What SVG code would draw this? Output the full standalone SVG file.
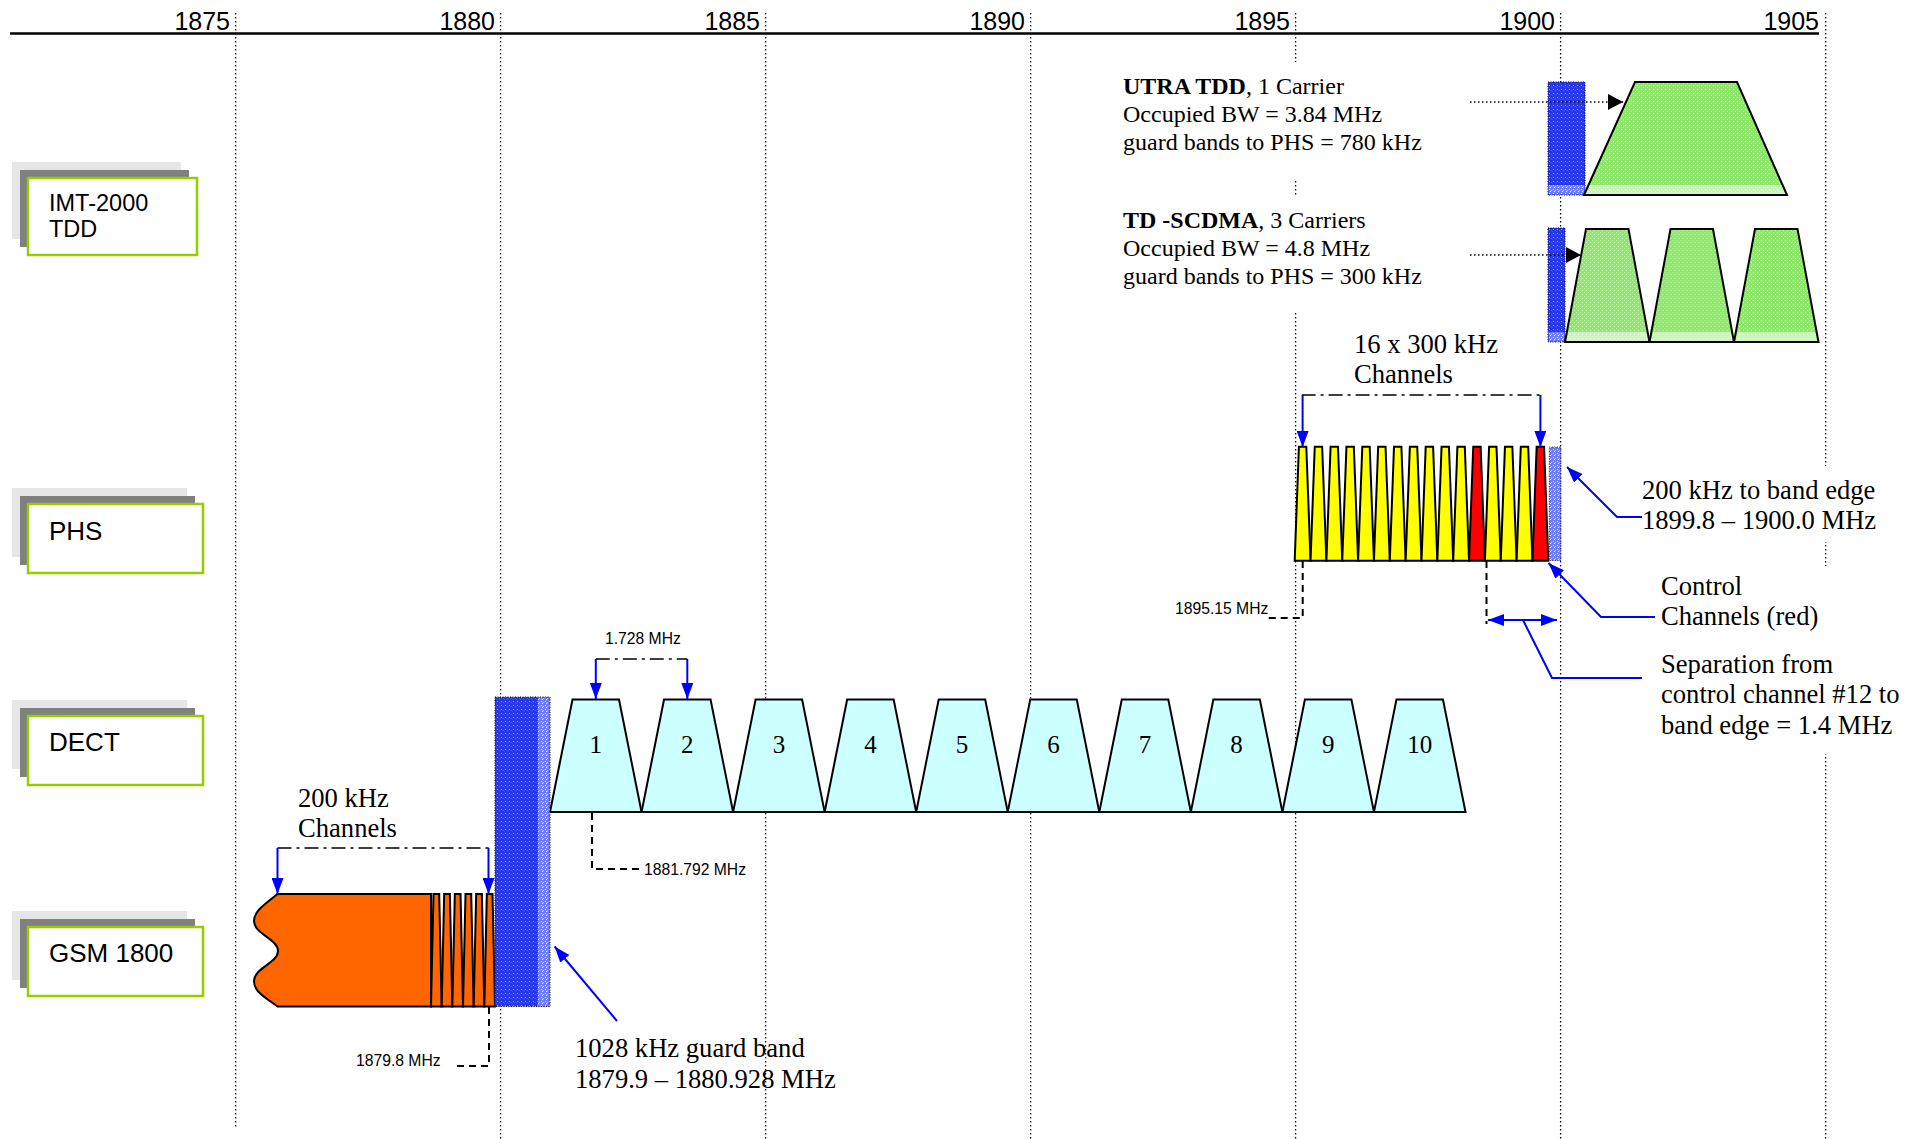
<svg xmlns="http://www.w3.org/2000/svg" xmlns:xlink="http://www.w3.org/1999/xlink" width="1924" height="1139" viewBox="0 0 1924 1139">
<style>
.grid{stroke:#000;stroke-width:1.3;stroke-dasharray:1.5 2.5;fill:none}
.dot{stroke:#000;stroke-width:1.5;stroke-dasharray:1.5 2.5;fill:none}
.dd{stroke:#000;stroke-width:1.5;stroke-dasharray:14 5 3 5;fill:none}
.dash{stroke:#000;stroke-width:2;stroke-dasharray:7 5;fill:none}
.blu{stroke:#0000ff;stroke-width:2;fill:none}
.ax{font-family:"Liberation Sans",Arial,sans-serif;font-size:25px;text-anchor:end;fill:#000}
.nd{font-family:"Liberation Sans",Arial,sans-serif;font-size:26px;fill:#000}
.tm{font-family:"Liberation Serif","Times New Roman",serif;font-size:26.6px;fill:#000}
.t24{font-family:"Liberation Serif","Times New Roman",serif;font-size:24px;fill:#000}
.num{font-family:"Liberation Serif","Times New Roman",serif;font-size:25px;fill:#000;text-anchor:middle}
.sm{font-family:"Liberation Sans",Arial,sans-serif;font-size:15.7px;fill:#000}
.sh1{fill:#e6e6e6}
.sh2{fill:#808080}
.bx{fill:#fff;stroke:#99cc00;stroke-width:2.5}
.ch{stroke:#000;stroke-width:2;stroke-linejoin:miter}
.cy{fill:#ccffff}
.ye{fill:#ffff00}
.rd{fill:#ff0000}
.gr{fill:url(#greentex)}
.bb{fill:url(#bluetex);stroke:#000;stroke-width:1;stroke-dasharray:1 1.5}
</style>
<defs>
<pattern id="bluetex" width="4" height="4" patternUnits="userSpaceOnUse">
<rect width="4" height="4" fill="#2636e6"/>
<rect x="1" y="1" width="1" height="1" fill="#9aa6f6"/>
<rect x="3" y="2" width="1" height="1" fill="#5566ee"/>
<rect x="0" y="3" width="1" height="1" fill="#4252ec"/>
</pattern>
<pattern id="bluelight" width="4" height="4" patternUnits="userSpaceOnUse">
<rect width="4" height="4" fill="#6d7cf0"/>
<rect x="1" y="1" width="1" height="1" fill="#e0e4fc"/>
<rect x="3" y="2" width="1" height="1" fill="#c2c9fa"/>
<rect x="2" y="3" width="1" height="1" fill="#ffffff"/>
</pattern>
<pattern id="greentex" width="4" height="4" patternUnits="userSpaceOnUse">
<rect width="4" height="4" fill="#8ee86a"/>
<rect x="1" y="1" width="1" height="1" fill="#d6f8c8"/>
<rect x="3" y="3" width="1" height="1" fill="#b8f2a2"/>
</pattern>
<polygon id="dectch" points="0,112.5 22.5,0 69,0 91.55,112.5"/>
<polygon id="phsch" points="0,114 4.2,0 11.6,0 15.85,114"/>
<polygon id="gsmch" points="0,112.5 2.5,0 8.2,0 10.67,112.5"/>
<polygon id="tdch" points="0,113 21,0 63.5,0 84.5,113"/>
<marker id="ab" viewBox="0 0 16 12" refX="16" refY="6" markerWidth="16" markerHeight="12" markerUnits="userSpaceOnUse" orient="auto"><path d="M0,0 L16,6 L0,12 z" fill="#0000ff"/></marker>
<marker id="ab2" viewBox="0 0 16 12" refX="16" refY="6" markerWidth="16" markerHeight="12" markerUnits="userSpaceOnUse" orient="auto-start-reverse"><path d="M0,0 L16,6 L0,12 z" fill="#0000ff"/></marker>
<marker id="ak" viewBox="0 0 15 16" refX="15" refY="8" markerWidth="15" markerHeight="16" markerUnits="userSpaceOnUse" orient="auto"><path d="M0,0 L15,8 L0,16 z" fill="#000"/></marker>
</defs>
<rect width="1924" height="1139" fill="#fff"/>

<g id="axis">
<line x1="10" y1="33.5" x2="1819" y2="33.5" stroke="#000" stroke-width="2.5"/>
<line class="grid" x1="235.6" y1="13" x2="235.6" y2="1127"/>
<line class="grid" x1="500.6" y1="13" x2="500.6" y2="1139"/>
<line class="grid" x1="765.6" y1="13" x2="765.6" y2="1139"/>
<line class="grid" x1="1030.6" y1="13" x2="1030.6" y2="1139"/>
<line class="grid" x1="1295.6" y1="13" x2="1295.6" y2="1139"/>
<line class="grid" x1="1560.6" y1="13" x2="1560.6" y2="1139"/>
<line class="grid" x1="1825.6" y1="13" x2="1825.6" y2="1139"/>
<text class="ax" x="230" y="29.5">1875</text>
<text class="ax" x="495" y="29.5">1880</text>
<text class="ax" x="760" y="29.5">1885</text>
<text class="ax" x="1025" y="29.5">1890</text>
<text class="ax" x="1290" y="29.5">1895</text>
<text class="ax" x="1555" y="29.5">1900</text>
<text class="ax" x="1819" y="29.5">1905</text>
</g>

<g id="label-backgrounds" fill="#fff">
<rect x="1112" y="62" width="330" height="118"/>
<rect x="1112" y="197" width="330" height="116"/>
<rect x="1636" y="466" width="250" height="76"/>
<rect x="1655" y="566" width="255" height="188"/>
</g>

<g id="node-imt2000">
<rect class="sh1" x="12" y="162" width="169" height="77"/>
<rect class="sh2" x="20" y="170" width="169" height="77"/>
<rect class="bx" x="28" y="178" width="169" height="77"/>
<text class="nd" x="49" y="211" style="font-size:23.5px">IMT-2000</text>
<text class="nd" x="49" y="237" style="font-size:23.5px">TDD</text>
</g>
<g id="node-phs">
<rect class="sh1" x="12" y="488" width="175" height="69"/>
<rect class="sh2" x="20" y="496" width="175" height="69"/>
<rect class="bx" x="28" y="504" width="175" height="69"/>
<text class="nd" x="49" y="540">PHS</text>
</g>
<g id="node-dect">
<rect class="sh1" x="12" y="700" width="175" height="69"/>
<rect class="sh2" x="20" y="708" width="175" height="69"/>
<rect class="bx" x="28" y="716" width="175" height="69"/>
<text class="nd" x="49" y="751">DECT</text>
</g>
<g id="node-gsm1800">
<rect class="sh1" x="12" y="911" width="175" height="69"/>
<rect class="sh2" x="20" y="919" width="175" height="69"/>
<rect class="bx" x="28" y="927" width="175" height="69"/>
<text class="nd" x="49" y="962">GSM 1800</text>
</g>

<g id="utra-tdd">
<rect class="bb" x="1548" y="82" width="37" height="113"/>
<rect x="1548.5" y="185" width="36" height="9.5" fill="url(#bluelight)"/>
<polygon class="gr" points="1584,195 1635,82 1737,82 1787,195"/>
<polygon points="1588.5,185 1782.6,185 1787,195 1584,195" fill="#fff" fill-opacity="0.55"/>
<polygon class="ch" fill="none" points="1584,195 1635,82 1737,82 1787,195"/>
</g>

<g id="td-scdma">
<rect class="bb" x="1548" y="228" width="17" height="114"/>
<rect x="1548.5" y="332" width="16" height="9.5" fill="url(#bluelight)"/>
<use href="#tdch" x="1565" y="229" class="gr"/>
<use href="#tdch" x="1649.5" y="229" class="gr"/>
<use href="#tdch" x="1734" y="229" class="gr"/>
<polygon points="1569,332 1646,332 1649.5,342 1565,342" fill="#fff" fill-opacity="0.55"/>
<polygon points="1653.5,332 1730.5,332 1734,342 1649.5,342" fill="#fff" fill-opacity="0.55"/>
<polygon points="1738,332 1815,332 1818.5,342 1734,342" fill="#fff" fill-opacity="0.55"/>
<use href="#tdch" x="1565" y="229" class="ch" fill="none"/>
<use href="#tdch" x="1649.5" y="229" class="ch" fill="none"/>
<use href="#tdch" x="1734" y="229" class="ch" fill="none"/>
</g>

<g id="phs-channels">
<use href="#phsch" class="ch ye" x="1294.7" y="446.7"/>
<use href="#phsch" class="ch ye" x="1310.55" y="446.7"/>
<use href="#phsch" class="ch ye" x="1326.4" y="446.7"/>
<use href="#phsch" class="ch ye" x="1342.25" y="446.7"/>
<use href="#phsch" class="ch ye" x="1358.1" y="446.7"/>
<use href="#phsch" class="ch ye" x="1373.95" y="446.7"/>
<use href="#phsch" class="ch ye" x="1389.8" y="446.7"/>
<use href="#phsch" class="ch ye" x="1405.65" y="446.7"/>
<use href="#phsch" class="ch ye" x="1421.5" y="446.7"/>
<use href="#phsch" class="ch ye" x="1437.35" y="446.7"/>
<use href="#phsch" class="ch ye" x="1453.2" y="446.7"/>
<use href="#phsch" class="ch rd" x="1469.05" y="446.7"/>
<use href="#phsch" class="ch ye" x="1484.9" y="446.7"/>
<use href="#phsch" class="ch ye" x="1500.75" y="446.7"/>
<use href="#phsch" class="ch ye" x="1516.6" y="446.7"/>
<use href="#phsch" class="ch rd" x="1532.45" y="446.7"/>
<rect x="1549.3" y="447" width="11.5" height="113.5" fill="url(#bluelight)" stroke="#000" stroke-width="0.8" stroke-dasharray="1 1.5"/>
</g>

<g id="dect-channels">
<use href="#dectch" class="ch cy" x="550" y="699.5"/>
<use href="#dectch" class="ch cy" x="641.55" y="699.5"/>
<use href="#dectch" class="ch cy" x="733.1" y="699.5"/>
<use href="#dectch" class="ch cy" x="824.65" y="699.5"/>
<use href="#dectch" class="ch cy" x="916.2" y="699.5"/>
<use href="#dectch" class="ch cy" x="1007.75" y="699.5"/>
<use href="#dectch" class="ch cy" x="1099.3" y="699.5"/>
<use href="#dectch" class="ch cy" x="1190.85" y="699.5"/>
<use href="#dectch" class="ch cy" x="1282.4" y="699.5"/>
<use href="#dectch" class="ch cy" x="1373.95" y="699.5"/>
<text class="num" x="595.8" y="753">1</text>
<text class="num" x="687.3" y="753">2</text>
<text class="num" x="778.9" y="753">3</text>
<text class="num" x="870.4" y="753">4</text>
<text class="num" x="962" y="753">5</text>
<text class="num" x="1053.5" y="753">6</text>
<text class="num" x="1145.1" y="753">7</text>
<text class="num" x="1236.6" y="753">8</text>
<text class="num" x="1328.2" y="753">9</text>
<text class="num" x="1419.7" y="753">10</text>
</g>

<g id="gsm-channels">
<path class="ch" fill="#ff6600" d="M277.5,894 L431,894 L431,1006.5 L277.5,1006.5 C265,997 254,992 254,981 C254,968 278,963 278,951 C278,939 254,934 254,921 C254,911 265,904 277.5,894 Z"/>
<use href="#gsmch" class="ch" fill="#ff6600" x="431" y="894"/>
<use href="#gsmch" class="ch" fill="#ff6600" x="441.67" y="894"/>
<use href="#gsmch" class="ch" fill="#ff6600" x="452.33" y="894"/>
<use href="#gsmch" class="ch" fill="#ff6600" x="463" y="894"/>
<use href="#gsmch" class="ch" fill="#ff6600" x="473.67" y="894"/>
<use href="#gsmch" class="ch" fill="#ff6600" x="484.33" y="894"/>
</g>

<g id="guard-band">
<rect class="bb" x="495" y="697" width="55" height="309.5"/>
<rect x="538" y="697.5" width="11.5" height="308.5" fill="url(#bluelight)"/>
</g>

<g id="connectors">
<line class="dot" x1="1470" y1="102" x2="1623" y2="102" marker-end="url(#ak)"/>
<line class="dot" x1="1470" y1="255" x2="1581" y2="255" marker-end="url(#ak)"/>
<polyline class="dd" points="1302.6,396 1302.6,395 1540,395"/>
<line class="blu" x1="1302.6" y1="395" x2="1302.6" y2="447" marker-end="url(#ab)"/>
<line class="blu" x1="1540.4" y1="395" x2="1540.4" y2="447" marker-end="url(#ab)"/>
<polyline class="dd" points="595.8,659 687.3,659"/>
<line class="blu" x1="595.8" y1="659" x2="595.8" y2="699" marker-end="url(#ab)"/>
<line class="blu" x1="687.3" y1="659" x2="687.3" y2="699" marker-end="url(#ab)"/>
<polyline class="dd" points="277.5,848 488.5,848"/>
<line class="blu" x1="277.5" y1="848" x2="277.5" y2="894" marker-end="url(#ab)"/>
<line class="blu" x1="488.5" y1="848" x2="488.5" y2="894" marker-end="url(#ab)"/>
<polyline class="dash" points="489,1007 489,1066 453,1066"/>
<polyline class="dash" points="592,813 592,869 641,869"/>
<polyline class="dash" points="1302.7,561 1302.7,618 1268,618"/>
<line class="dash" x1="1486.5" y1="561" x2="1486.5" y2="624"/>
<line class="blu" x1="617" y1="1021" x2="554.6" y2="946.5" marker-end="url(#ab)"/>
<polyline class="blu" points="1642,517 1617,517 1567,467" marker-end="url(#ab)"/>
<polyline class="blu" points="1655,617 1601,617 1548.5,563" marker-end="url(#ab)"/>
<line class="blu" x1="1488" y1="620" x2="1557" y2="620" marker-start="url(#ab2)" marker-end="url(#ab2)"/>
<polyline class="blu" points="1642,678 1552,678 1523,620"/>
</g>

<g id="labels">
<text class="t24" x="1123" y="94"><tspan font-weight="bold">UTRA TDD</tspan>, 1 Carrier</text>
<text class="t24" x="1123" y="122">Occupied BW = 3.84 MHz</text>
<text class="t24" x="1123" y="150">guard bands to PHS = 780 kHz</text>
<text class="t24" x="1123" y="228"><tspan font-weight="bold">TD -SCDMA</tspan>, 3 Carriers</text>
<text class="t24" x="1123" y="256">Occupied BW = 4.8 MHz</text>
<text class="t24" x="1123" y="284">guard bands to PHS = 300 kHz</text>
<text class="tm" x="1354" y="353">16 x 300 kHz</text>
<text class="tm" x="1354" y="383">Channels</text>
<text class="tm" x="1642" y="499">200 kHz to band edge</text>
<text class="tm" x="1642" y="529">1899.8 – 1900.0 MHz</text>
<text class="tm" x="1661" y="595">Control</text>
<text class="tm" x="1661" y="625">Channels (red)</text>
<text class="tm" x="1661" y="673">Separation from</text>
<text class="tm" x="1661" y="703">control channel #12 to</text>
<text class="tm" x="1661" y="734">band edge = 1.4 MHz</text>
<text class="sm" x="1175" y="614">1895.15 MHz</text>
<text class="sm" x="605" y="644">1.728 MHz</text>
<text class="sm" x="644" y="875">1881.792 MHz</text>
<text class="tm" x="298" y="807">200 kHz</text>
<text class="tm" x="298" y="837">Channels</text>
<text class="sm" x="356" y="1066">1879.8 MHz</text>
<text class="tm" x="575" y="1057">1028 kHz guard band</text>
<text class="tm" x="575" y="1088">1879.9 – 1880.928 MHz</text>
</g>
</svg>
